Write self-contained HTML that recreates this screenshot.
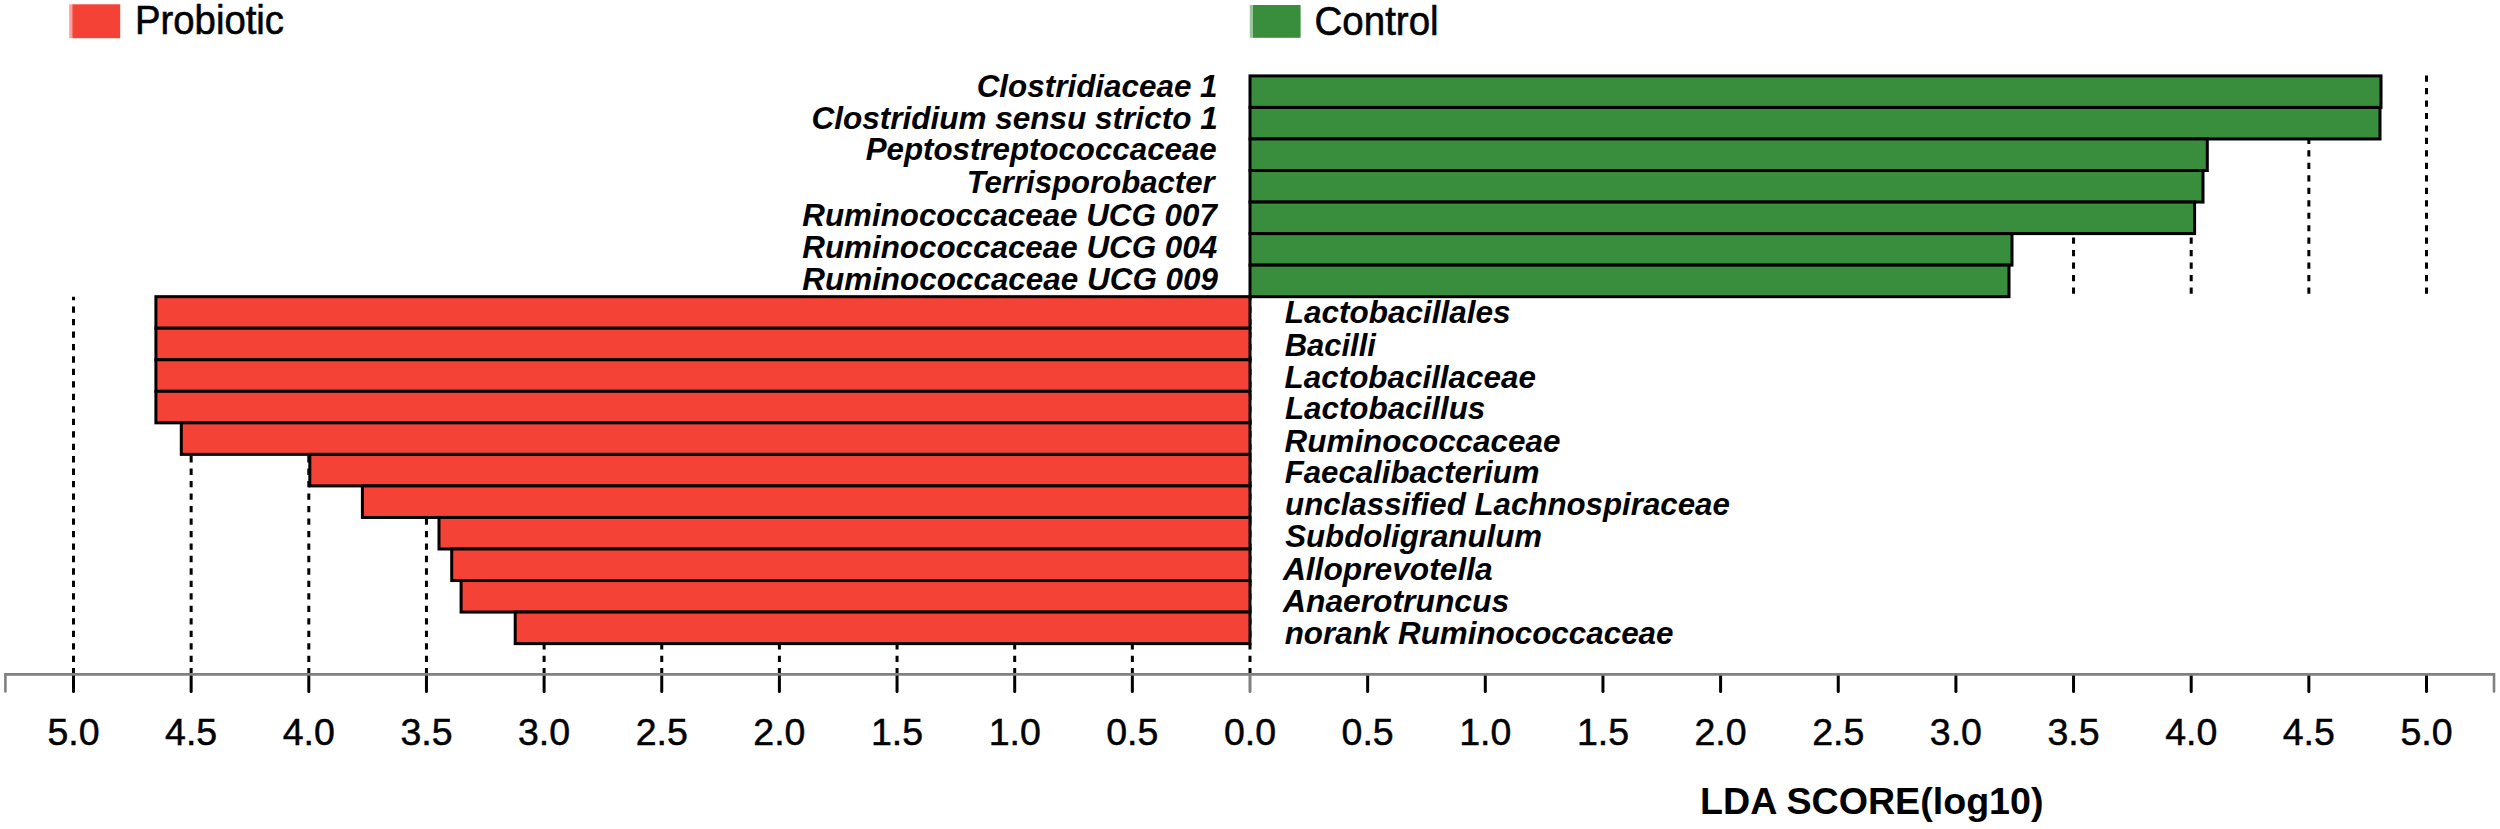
<!DOCTYPE html>
<html><head><meta charset="utf-8"><title>LDA SCORE</title>
<style>
html,body{margin:0;padding:0;background:#fff;}
svg{display:block;}
text{font-family:"Liberation Sans",Arial,Helvetica,sans-serif;fill:#000;}
.lab{font-style:italic;font-weight:bold;font-size:31px;}
.tk{font-size:37.5px;text-anchor:middle;stroke:#000;stroke-width:0.5px;}
.lg{font-size:41px;stroke:#000;stroke-width:0.6px;}
.ttl{font-size:37.5px;font-weight:bold;}
.dot{stroke:#000;stroke-width:3;fill:none;}
.bar{stroke:#000;stroke-width:3;}
</style></head><body>
<svg width="2500" height="829" viewBox="0 0 2500 829">
<rect width="2500" height="829" fill="#fff"/>
<g class="dot" stroke-dasharray="6.3 6.17" stroke-dashoffset="2.7">
<line x1="1250.00" y1="296.7" x2="1250.00" y2="674.4"/>
<line x1="1132.35" y1="296.7" x2="1132.35" y2="674.4"/>
<line x1="1014.70" y1="296.7" x2="1014.70" y2="674.4"/>
<line x1="897.05" y1="296.7" x2="897.05" y2="674.4"/>
<line x1="779.40" y1="296.7" x2="779.40" y2="674.4"/>
<line x1="661.75" y1="296.7" x2="661.75" y2="674.4"/>
<line x1="544.10" y1="296.7" x2="544.10" y2="674.4"/>
<line x1="426.45" y1="296.7" x2="426.45" y2="674.4"/>
<line x1="308.80" y1="296.7" x2="308.80" y2="674.4"/>
<line x1="191.15" y1="296.7" x2="191.15" y2="674.4"/>
<line x1="73.50" y1="296.7" x2="73.50" y2="674.4"/>
</g>
<g class="dot" stroke-dasharray="6.2 6.27">
<line x1="1367.65" y1="75.5" x2="1367.65" y2="294"/>
<line x1="1485.30" y1="75.5" x2="1485.30" y2="294"/>
<line x1="1602.95" y1="75.5" x2="1602.95" y2="294"/>
<line x1="1720.60" y1="75.5" x2="1720.60" y2="294"/>
<line x1="1838.25" y1="75.5" x2="1838.25" y2="294"/>
<line x1="1955.90" y1="75.5" x2="1955.90" y2="294"/>
<line x1="2073.55" y1="75.5" x2="2073.55" y2="294"/>
<line x1="2191.20" y1="75.5" x2="2191.20" y2="294"/>
<line x1="2308.85" y1="75.5" x2="2308.85" y2="294"/>
<line x1="2426.50" y1="75.5" x2="2426.50" y2="294"/>
</g>
<g class="bar" fill="#388E3C">
<rect x="1250.0" y="75.90" width="1131.00" height="31.54"/>
<rect x="1250.0" y="107.44" width="1130.00" height="31.54"/>
<rect x="1250.0" y="138.98" width="957.30" height="31.54"/>
<rect x="1250.0" y="170.52" width="953.00" height="31.54"/>
<rect x="1250.0" y="202.06" width="944.60" height="31.54"/>
<rect x="1250.0" y="233.60" width="762.00" height="31.54"/>
<rect x="1250.0" y="265.14" width="759.00" height="31.54"/>
</g>
<g class="bar" fill="#F44336">
<rect x="155.90" y="296.68" width="1094.10" height="31.54"/>
<rect x="155.90" y="328.22" width="1094.10" height="31.54"/>
<rect x="155.90" y="359.76" width="1094.10" height="31.54"/>
<rect x="155.90" y="391.30" width="1094.10" height="31.54"/>
<rect x="181.30" y="422.84" width="1068.70" height="31.54"/>
<rect x="309.80" y="454.38" width="940.20" height="31.54"/>
<rect x="362.40" y="485.92" width="887.60" height="31.54"/>
<rect x="439.00" y="517.46" width="811.00" height="31.54"/>
<rect x="451.70" y="549.00" width="798.30" height="31.54"/>
<rect x="461.10" y="580.54" width="788.90" height="31.54"/>
<rect x="515.20" y="612.08" width="734.80" height="31.54"/>
</g>
<g stroke="#000" stroke-width="3" stroke-linecap="round">
<line x1="73.50" y1="674.4" x2="73.50" y2="691.5"/>
<line x1="191.15" y1="674.4" x2="191.15" y2="691.5"/>
<line x1="308.80" y1="674.4" x2="308.80" y2="691.5"/>
<line x1="426.45" y1="674.4" x2="426.45" y2="691.5"/>
<line x1="544.10" y1="674.4" x2="544.10" y2="691.5"/>
<line x1="661.75" y1="674.4" x2="661.75" y2="691.5"/>
<line x1="779.40" y1="674.4" x2="779.40" y2="691.5"/>
<line x1="897.05" y1="674.4" x2="897.05" y2="691.5"/>
<line x1="1014.70" y1="674.4" x2="1014.70" y2="691.5"/>
<line x1="1132.35" y1="674.4" x2="1132.35" y2="691.5"/>
<line x1="1367.65" y1="674.4" x2="1367.65" y2="691.5"/>
<line x1="1485.30" y1="674.4" x2="1485.30" y2="691.5"/>
<line x1="1602.95" y1="674.4" x2="1602.95" y2="691.5"/>
<line x1="1720.60" y1="674.4" x2="1720.60" y2="691.5"/>
<line x1="1838.25" y1="674.4" x2="1838.25" y2="691.5"/>
<line x1="1955.90" y1="674.4" x2="1955.90" y2="691.5"/>
<line x1="2073.55" y1="674.4" x2="2073.55" y2="691.5"/>
<line x1="2191.20" y1="674.4" x2="2191.20" y2="691.5"/>
<line x1="2308.85" y1="674.4" x2="2308.85" y2="691.5"/>
<line x1="2426.50" y1="674.4" x2="2426.50" y2="691.5"/>
</g>
<g stroke="#808080" stroke-width="2.6" fill="none" stroke-linecap="round"><polyline points="5.4,691.5 5.4,674.4 2494,674.4 2494,691.5"/><line x1="1250.0" y1="674.4" x2="1250.0" y2="691.5" stroke-width="3"/></g>
<g class="tk">
<text x="73.50" y="745.3">5.0</text>
<text x="191.15" y="745.3">4.5</text>
<text x="308.80" y="745.3">4.0</text>
<text x="426.45" y="745.3">3.5</text>
<text x="544.10" y="745.3">3.0</text>
<text x="661.75" y="745.3">2.5</text>
<text x="779.40" y="745.3">2.0</text>
<text x="897.05" y="745.3">1.5</text>
<text x="1014.70" y="745.3">1.0</text>
<text x="1132.35" y="745.3">0.5</text>
<text x="1250.00" y="745.3">0.0</text>
<text x="1367.65" y="745.3">0.5</text>
<text x="1485.30" y="745.3">1.0</text>
<text x="1602.95" y="745.3">1.5</text>
<text x="1720.60" y="745.3">2.0</text>
<text x="1838.25" y="745.3">2.5</text>
<text x="1955.90" y="745.3">3.0</text>
<text x="2073.55" y="745.3">3.5</text>
<text x="2191.20" y="745.3">4.0</text>
<text x="2308.85" y="745.3">4.5</text>
<text x="2426.50" y="745.3">5.0</text>
</g>
<g class="lab">
<text x="976.7" y="97.4" textLength="240.9" lengthAdjust="spacingAndGlyphs">Clostridiaceae 1</text>
<text x="811.4" y="128.7" textLength="406.3" lengthAdjust="spacingAndGlyphs">Clostridium sensu stricto 1</text>
<text x="865.7" y="160.4" textLength="351.0" lengthAdjust="spacingAndGlyphs">Peptostreptococcaceae</text>
<text x="966.7" y="192.5" textLength="247.9" lengthAdjust="spacingAndGlyphs">Terrisporobacter</text>
<text x="802.3" y="226.1" textLength="414.6" lengthAdjust="spacingAndGlyphs">Ruminococcaceae UCG 007</text>
<text x="802.3" y="257.6" textLength="414.8" lengthAdjust="spacingAndGlyphs">Ruminococcaceae UCG 004</text>
<text x="802.3" y="289.5" textLength="415.7" lengthAdjust="spacingAndGlyphs">Ruminococcaceae UCG 009</text>
<text x="1284.8" y="322.9" textLength="225.6" lengthAdjust="spacingAndGlyphs">Lactobacillales</text>
<text x="1284.7" y="355.6" textLength="91.2" lengthAdjust="spacingAndGlyphs">Bacilli</text>
<text x="1284.6" y="387.7" textLength="251.3" lengthAdjust="spacingAndGlyphs">Lactobacillaceae</text>
<text x="1284.9" y="419.0" textLength="200.4" lengthAdjust="spacingAndGlyphs">Lactobacillus</text>
<text x="1284.6" y="451.6" textLength="275.8" lengthAdjust="spacingAndGlyphs">Ruminococcaceae</text>
<text x="1284.7" y="483.4" textLength="254.8" lengthAdjust="spacingAndGlyphs">Faecalibacterium</text>
<text x="1285.1" y="515.4" textLength="444.8" lengthAdjust="spacingAndGlyphs">unclassified Lachnospiraceae</text>
<text x="1285.2" y="547.0" textLength="256.8" lengthAdjust="spacingAndGlyphs">Subdoligranulum</text>
<text x="1282.9" y="580.0" textLength="209.8" lengthAdjust="spacingAndGlyphs">Alloprevotella</text>
<text x="1283.0" y="611.6" textLength="226.1" lengthAdjust="spacingAndGlyphs">Anaerotruncus</text>
<text x="1284.7" y="643.6" textLength="388.8" lengthAdjust="spacingAndGlyphs">norank Ruminococcaceae</text>
</g>
<rect x="69.2" y="4.3" width="4" height="33.9" fill="#F44336" opacity="0.5"/><rect x="72.5" y="4.3" width="47.7" height="33.9" fill="#F44336"/>
<rect x="1249.8" y="5" width="4" height="32.8" fill="#388E3C" opacity="0.5"/><rect x="1253" y="5" width="47.6" height="32.8" fill="#388E3C"/>
<g class="lg"><text x="135" y="34.4" textLength="149" lengthAdjust="spacingAndGlyphs">Probiotic</text><text x="1314.6" y="34.8" textLength="124" lengthAdjust="spacingAndGlyphs">Control</text></g>
<text class="ttl" x="1700" y="814.4" textLength="343.5" lengthAdjust="spacingAndGlyphs">LDA SCORE(log10)</text>
</svg>
</body></html>
